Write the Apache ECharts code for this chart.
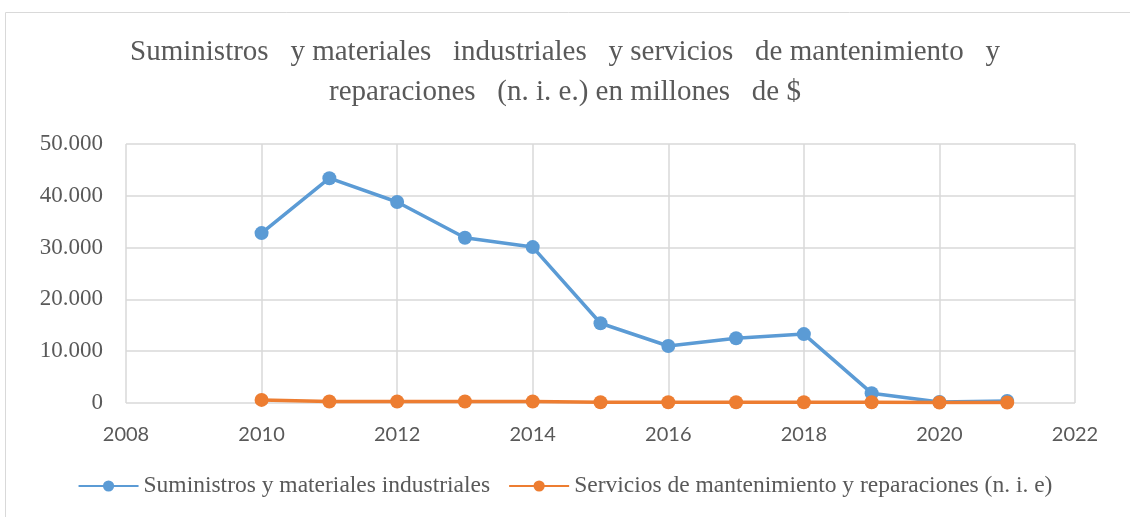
<!DOCTYPE html>
<html>
<head>
<meta charset="utf-8">
<script src="https://cdn.jsdelivr.net/npm/echarts@6/dist/echarts.min.js"></script>
<style>
  html, body { margin: 0; padding: 0; background: #fff; }
  #main { width: 1130px; height: 517px; }
</style>
</head>
<body>
<div id="main"></div>
<script>
const years = [2010, 2011, 2012, 2013, 2014, 2015, 2016, 2017, 2018, 2019, 2020, 2021]
const suministros = [32800, 43400, 38800, 31900, 30100, 15400, 11000, 12500, 13300, 1900, 200, 400]
const servicios = [600, 300, 300, 300, 300, 150, 150, 150, 150, 150, 100, 100]
const seriesNames = ['Suministros y materiales industriales', 'Servicios de mantenimiento y reparaciones (n. i. e)']
const colors = ['#5B9BD5', '#ED7D31']

const serif = 'Liberation Serif, Times New Roman, serif'
const sans = 'Lato, Carlito, Calibri, sans-serif'
const textColor = '#595959'

let fmt = v => String(v).replace(/\B(?=(\d{3})+(?!\d))/g, '.')

let chart = echarts.init(document.getElementById('main'))
chart.setOption({
  animation: false,
  color: colors,
  graphic: [{
    type: 'rect',
    shape: { x: 5.5, y: 12.5, width: 1130, height: 520 },
    style: { fill: 'none', stroke: '#D9D9D9', lineWidth: 1 },
    silent: true
  }],
  title: {
    text: 'Suministros   y materiales   industriales   y servicios   de mantenimiento   y\nreparaciones   (n. i. e.) en millones   de $',
    left: 'center',
    top: 27,
    textStyle: {
      fontFamily: serif,
      fontWeight: 'normal',
      fontSize: 29,
      color: textColor,
      lineHeight: 40
    }
  },
  legend: {
    bottom: 14,
    left: 'center',
    itemWidth: 60,
    itemHeight: 14,
    itemGap: 18,
    textStyle: { fontFamily: serif, fontSize: 23.5, color: textColor },
    data: seriesNames
  },
  grid: { left: 126, right: 55, top: 144, bottom: 114 },
  xAxis: {
    type: 'value',
    min: 2008,
    max: 2022,
    interval: 2,
    axisLine: { show: false },
    axisTick: { show: false },
    axisLabel: { fontFamily: sans, fontSize: 20, color: textColor, margin: 22, formatter: v => String(v) },
    splitLine: { show: true, lineStyle: { color: '#D9D9D9', width: 1.5 } }
  },
  yAxis: {
    type: 'value',
    min: 0,
    max: 50000,
    interval: 10000,
    axisLine: { show: false },
    axisTick: { show: false },
    axisLabel: { fontFamily: serif, fontSize: 23, color: textColor, margin: 23, formatter: fmt },
    splitLine: { show: true, lineStyle: { color: '#D9D9D9', width: 1.5 } }
  },
  series: [
    {
      name: seriesNames[0],
      type: 'line',
      data: years.map((y, i) => [y, suministros[i]]),
      symbol: 'circle',
      symbolSize: 14,
      lineStyle: { width: 3.5 },
      z: 3
    },
    {
      name: seriesNames[1],
      type: 'line',
      data: years.map((y, i) => [y, servicios[i]]),
      symbol: 'circle',
      symbolSize: 14,
      lineStyle: { width: 3.5 },
      z: 4
    }
  ]
})
</script>
</body>
</html>
